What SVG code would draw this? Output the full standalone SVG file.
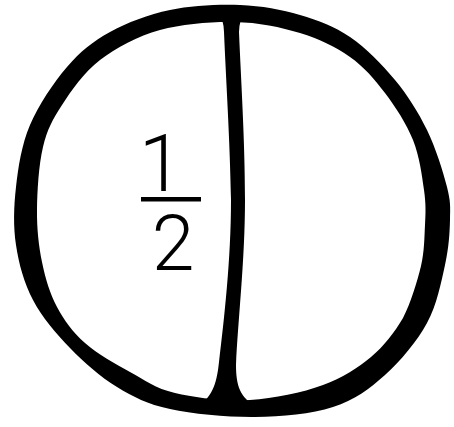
<svg xmlns="http://www.w3.org/2000/svg" width="454" height="427" viewBox="0 0 454 427">
<style>
.ink{fill:#000;}
.lbl{font-family:Roboto,"Liberation Sans",sans-serif;font-weight:300;fill:#000;text-anchor:middle;}
</style>
<rect width="454" height="427" fill="#fff"/>
<g id="circle">
<path class="ink" fill-rule="evenodd" d="M240,5 C261.7,5.8 281.7,9.7 300,15 C318.3,20.3 334.2,26.2 350,37 C365.8,47.8 382.2,64.5 395,80 C407.8,95.5 418.3,112.2 427,130 C435.7,147.8 443.2,172 447,187 C450.8,202 450.3,207 450,220 C449.7,233 448.8,247.8 445,265 C441.2,282.2 437,304.7 427,323 C417,341.3 400.7,361 385,375 C369.3,389 354.7,400 333,407 C311.3,414 282.2,416.7 255,417 C227.8,417.3 193,414 170,409 C147,404 133.7,397.2 117,387 C100.3,376.8 84,362.5 70,348 C56,333.5 42,317.2 33,300 C24,282.8 18.8,263.8 16,245 C13.2,226.2 13.7,207 16,187 C18.3,167 21.5,145 30,125 C38.5,105 53.7,82.5 67,67 C80.3,51.5 92.8,41.5 110,32 C127.2,22.5 148.3,14.5 170,10 C191.7,5.5 218.3,4.2 240,5 Z M235,22 C258.3,22.5 280.8,27.2 300,33 C319.2,38.8 335.8,47 350,57 C364.2,67 374.5,79.2 385,93 C395.5,106.8 406.5,123.8 413,140 C419.5,156.2 422,175.8 424,190 C426,204.2 425.7,212.5 425,225 C424.3,237.5 424.5,251 421,266 C417,282 411,302 403,318 C394,333 384,346 371,357 C358,368 342,378 323,385 C302,393 274.2,398.2 250,400 C225.8,401.8 195,397.7 175,393 C155,388.3 145,380.3 130,372 C115,363.7 97.2,353.8 85,343 C72.8,332.2 64.2,320.5 57,307 C49.8,293.5 45.3,278.2 42,262 C38.7,245.8 36.8,229.2 37,210 C37.2,190.8 38.8,164.5 43,147 C47.2,129.5 52.5,119.5 62,105 C71.5,90.5 83.7,72.5 100,60 C116.3,47.5 137.5,36.3 160,30 C182.5,23.7 211.7,21.5 235,22 Z"/>
</g>
<g id="divider">
<path class="ink" d="M218,15 Q224,20 224,32 C226,80 230,140 231,200 C231,260 224,320 219,362 C217,380 214,396 198,406 L256,406 C240,398 236,385 236,365 C238,320 245,260 245,200 C245,140 241,80 239,32 Q239,20 245,15 Z"/>
</g>
<g id="fraction">
<text class="lbl" x="161" y="191" font-size="80">1</text>
<rect class="ink" x="141" y="197" width="60" height="4.5"/>
<text class="lbl" x="173" y="270" font-size="77">2</text>
</g>
</svg>
